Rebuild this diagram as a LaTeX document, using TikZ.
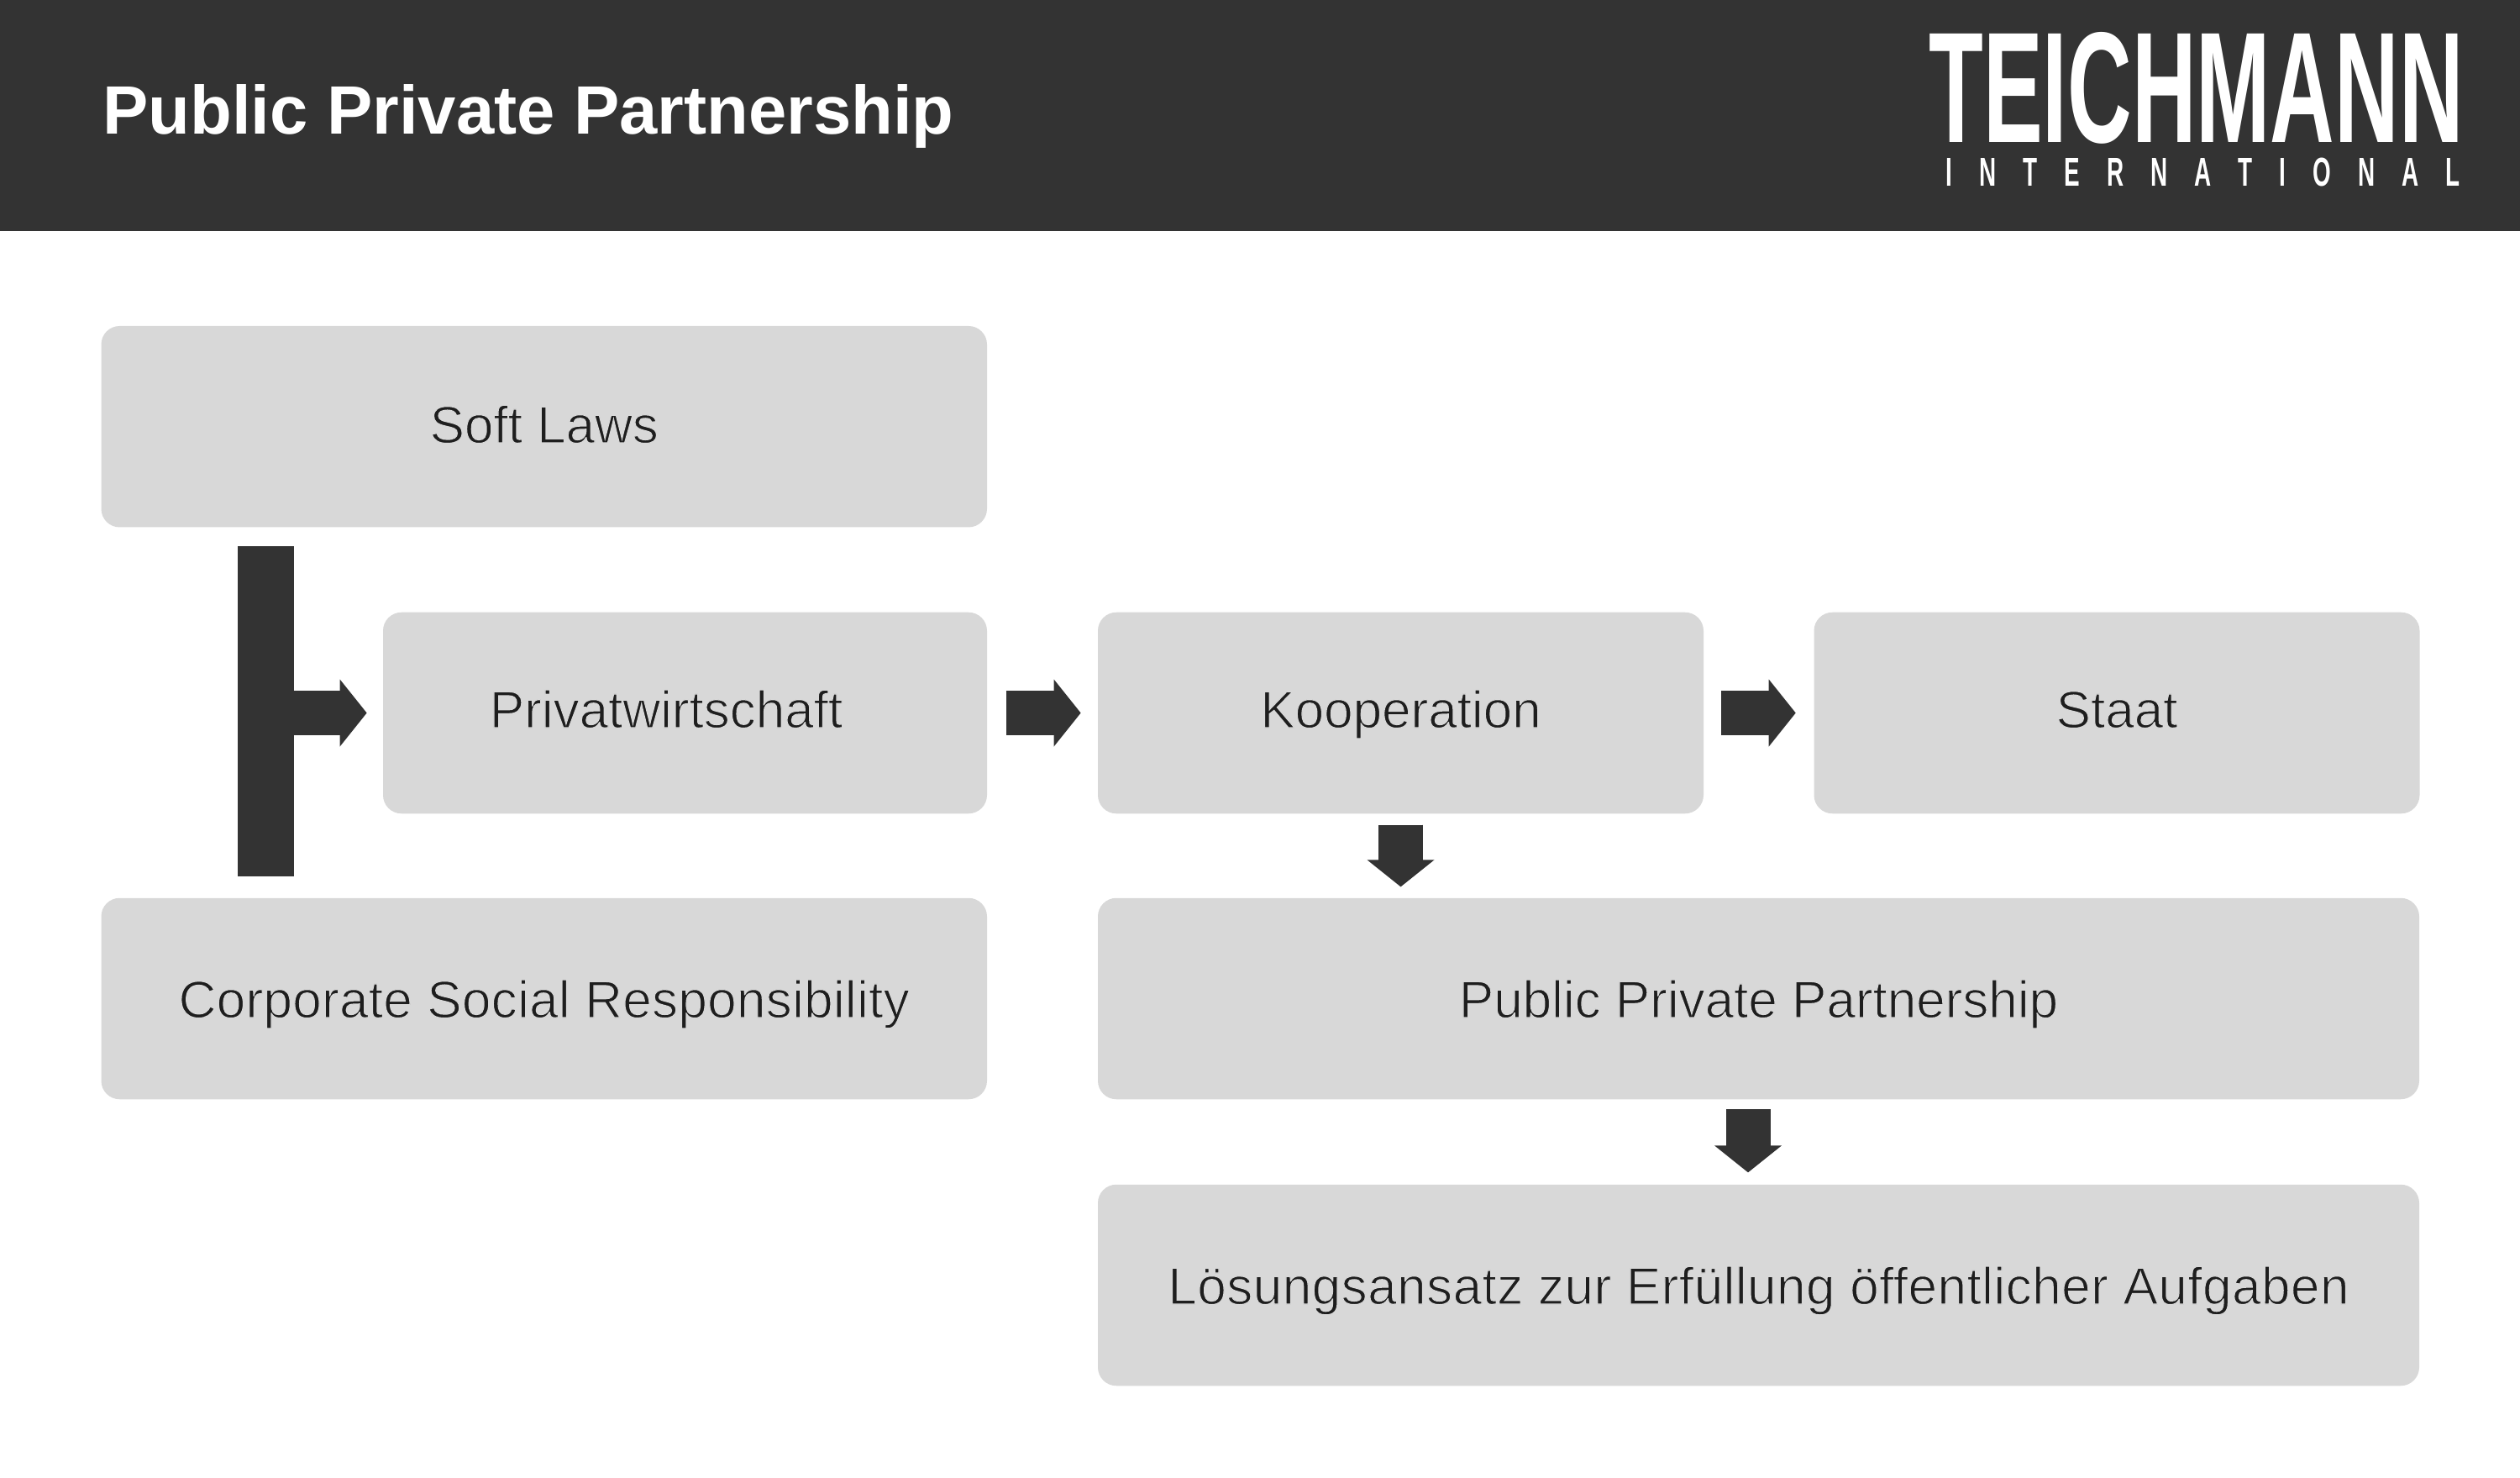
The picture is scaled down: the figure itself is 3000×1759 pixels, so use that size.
\documentclass[tikz,border=0pt]{standalone}
\usepackage{fontspec}
\usepackage{graphicx}
\usetikzlibrary{arrows.meta,positioning}
\setmainfont{Liberation Sans}
\definecolor{headerdark}{HTML}{333333}
\definecolor{boxgrey}{HTML}{D8D8D8}
\definecolor{labeldark}{HTML}{1E1E1E}
\newcommand{\thinlabel}[1]{\special{pdf:code q 2 Tr .847 .847 .847 RG 0.6 w}#1\special{pdf:code Q}}
\tikzset{
  x=.5pt,y=-.5pt,
  stepbox/.style={draw=none,fill=boxgrey,rounded corners=11pt,inner sep=0pt,
    minimum height=119.75pt,text=labeldark,font=\fontsize{31}{36}\selectfont,
    text height=#1,text depth=0pt,align=center},
  blockarrow/.style n args={2}{draw=headerdark,line width=26.5pt,line cap=butt,
    -{Triangle[length=16pt,width=40pt,line width=0pt,fill=headerdark]},
    shorten <=#1,shorten >=#2,
    postaction={draw=headerdark,line width=26.5pt,line cap=butt,arrows=-,shorten <=#1,shorten >=#2+12pt}},
  logotext/.style={text=white,inner sep=0pt,anchor=south west},
}
\begin{document}
\begin{tikzpicture}
\useasboundingbox (0,0) rectangle (3000,1759);
\fill[white] (0,0) rectangle (3000,1759);
\fill[headerdark] (0,0) rectangle (3000,275);
\node[text=white,inner sep=0pt,anchor=base west,font=\fontsize{40.7}{48}\selectfont\bfseries] (title) at (122,159.5) {Public Private Partnership};
\node[logotext] (logomain) at (2296,171.5) {\resizebox{318pt}{65.5pt}{\bfseries TEICHMANN}};
\node[logotext] (logosub) at (2316,222) {\resizebox{306pt}{16.75pt}{\hbox{\bfseries\spaceskip=1.15em I N T E R N A T I O N A L}}};

\node[stepbox=19.25pt,minimum width=527.25pt] (soft) at (647.75,507.75) {\thinlabel{Soft Laws}};
\node[stepbox=17.5pt,minimum width=359.5pt] (privat) at (815.5,848.5) {\thinlabel{Privatwirtschaft}\hspace*{22.5pt}};
\node[stepbox=17.5pt,minimum width=360.5pt] (koop) at (1667.5,848.5) {\thinlabel{Kooperation}};
\node[stepbox=17.5pt,minimum width=360.5pt] (staat) at (2520,848.5) {\thinlabel{Staat}};
\node[stepbox=22.5pt,minimum width=527.25pt] (csr) at (647.75,1188.5) {\thinlabel{\addfontfeature{LetterSpace=0.5}Corporate Social Responsibility}};
\node[stepbox=22.5pt,minimum width=786.5pt] (ppp) at (2093.5,1188.5) {\thinlabel{Public Private Partnership}};
\node[stepbox=22.5pt,minimum width=786.5pt] (loesung) at (2093.5,1529.5) {\thinlabel{\addfontfeature{LetterSpace=0.8}Lösungsansatz zur Erfüllung öffentlicher Aufgaben}};
\node[fill=headerdark,inner sep=0pt,minimum width=33.5pt,minimum height=196.5pt] (bar) at (316.5,846.5) {};
\coordinate (pppout) at (2081,1308);

\draw[blockarrow={0pt}{9.5pt}] (bar.east |- privat.west) -- (privat.west);
\draw[blockarrow={11.25pt}{10pt}] (privat.east) -- (koop.west);
\draw[blockarrow={10.5pt}{10.7pt}] (koop.east) -- (staat.west);
\draw[blockarrow={6.5pt}{6.5pt}] (koop.south) -- (koop.south |- ppp.north);
\draw[blockarrow={6pt}{7pt}] (pppout) -- (pppout |- loesung.north);
\end{tikzpicture}
\end{document}
